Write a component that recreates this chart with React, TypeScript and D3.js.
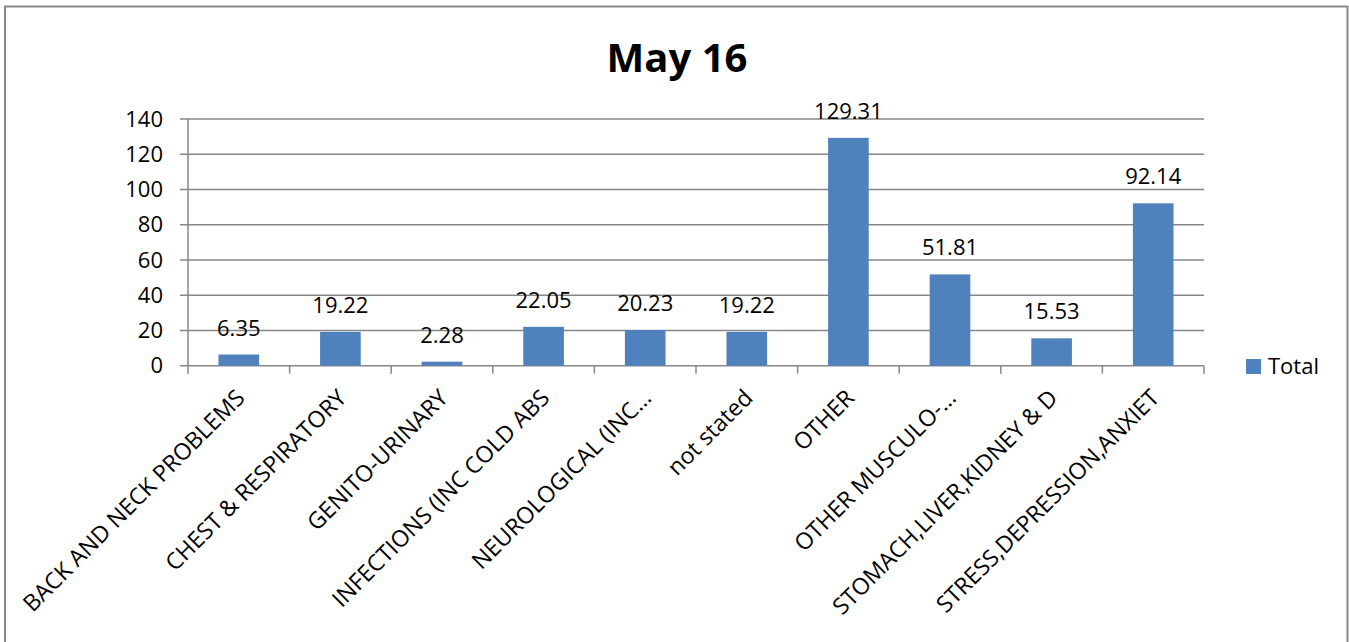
import React from "react";
import * as d3 from "d3";

const categories = [
  "BACK AND NECK PROBLEMS",
  "CHEST & RESPIRATORY",
  "GENITO-URINARY",
  "INFECTIONS (INC COLD ABS",
  "NEUROLOGICAL (INC…",
  "not stated",
  "OTHER",
  "OTHER MUSCULO-…",
  "STOMACH,LIVER,KIDNEY & D",
  "STRESS,DEPRESSION,ANXIET",
];
const totals = [6.35, 19.22, 2.28, 22.05, 20.23, 19.22, 129.31, 51.81, 15.53, 92.14];
const yTicks = [0, 20, 40, 60, 80, 100, 120, 140];
const title = "May 16";
const seriesName = "Total";

const W = 1349;
const H = 642;
const FONT = "'Open Sans', 'Noto Sans', sans-serif";
const BAR = "#4F81BD";
const GRID = "#878787";

export default function App() {
  const plot = { left: 188, right: 1204, top: 119, bottom: 365.7 };
  const x = d3.scaleBand<string>().domain(categories).range([plot.left, plot.right]).paddingInner(0.6).paddingOuter(0.3);
  const band = d3.scaleBand<string>().domain(categories).range([plot.left, plot.right]);
  const y = d3.scaleLinear().domain([0, 140]).range([plot.bottom, plot.top]);

  return (
    <svg width={W} height={H} style={{ position: "absolute", left: 0, top: 0 }} fontFamily={FONT}>
      <rect x={0} y={0} width={W} height={H} fill="#fff" />
      <rect x={5} y={6.5} width={1342.5} height={H + 10} fill="none" stroke={GRID} strokeWidth={2} />
      <text x={677} y={72} textAnchor="middle" fontSize={40} fontWeight="bold" fill="#000">
        {title}
      </text>

      {yTicks.map((t) => (
        <g key={t}>
          <line x1={180} x2={plot.right} y1={y(t)} y2={y(t)} stroke={GRID} strokeWidth={1.5} />
          <text x={163} y={y(t)} dy="0.35em" textAnchor="end" fontSize={22} fill="#000">
            {t}
          </text>
        </g>
      ))}
      <line x1={plot.left} x2={plot.left} y1={plot.top} y2={plot.bottom + 8} stroke={GRID} strokeWidth={1.5} />
      {categories.map((c, i) => (
        <line
          key={"t" + i}
          x1={(band(c) as number) + band.bandwidth()}
          x2={(band(c) as number) + band.bandwidth()}
          y1={plot.bottom}
          y2={plot.bottom + 8}
          stroke={GRID}
          strokeWidth={1.5}
        />
      ))}

      {categories.map((c, i) => (
        <g key={c}>
          <rect x={x(c)} y={y(totals[i])} width={x.bandwidth()} height={y(0) - y(totals[i])} fill={BAR} />
          <text
            x={(x(c) as number) + x.bandwidth() / 2}
            y={y(totals[i]) - 19}
            textAnchor="middle"
            fontSize={22}
            fill="#000"
          >
            {totals[i]}
          </text>
        </g>
      ))}

      {categories.map((c) => {
        const cx = (band(c) as number) + band.bandwidth() / 2 - 4;
        const cy = 388;
        return (
          <text
            key={"l" + c}
            transform={`translate(${cx},${cy}) rotate(-45)`}
            textAnchor="end"
            dy="0.7em"
            fontSize={23}
            fill="#000"
          >
            {c}
          </text>
        );
      })}

      <rect x={1246} y={359} width={15} height={15} fill={BAR} />
      <text x={1268} y={374} fontSize={22} fill="#000">
        {seriesName}
      </text>
    </svg>
  );
}
